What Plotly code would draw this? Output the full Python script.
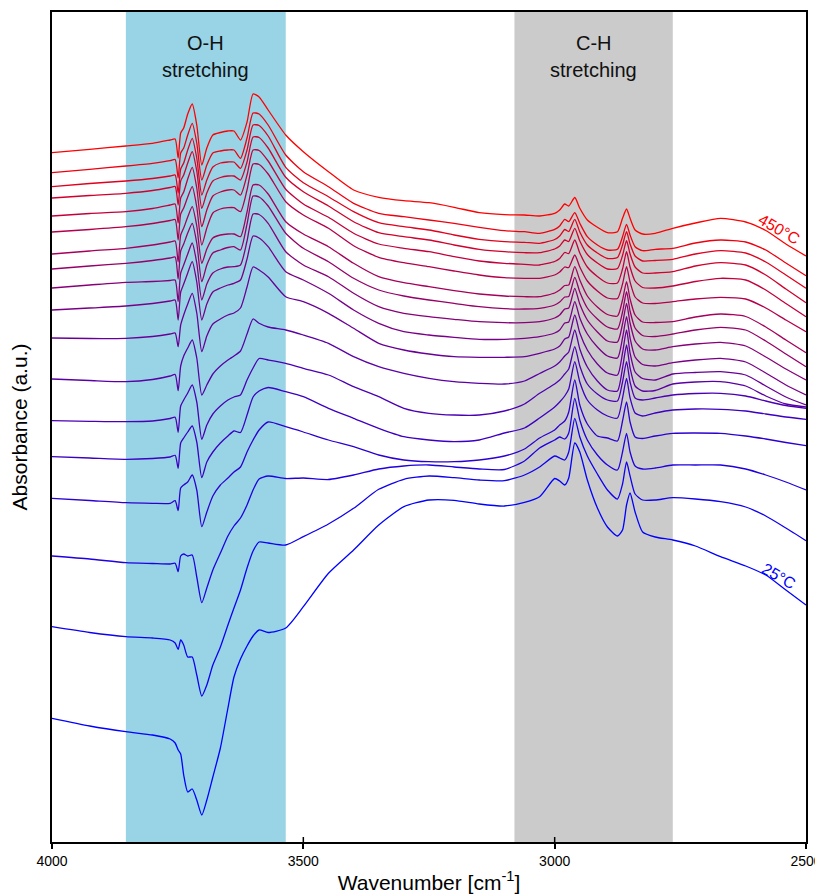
import plotly.graph_objects as go

# Wavenumber grid (cm-1) at which every spectrum was read
wavenumber = [4000, 3925, 3853, 3800, 3765, 3755, 3749, 3744, 3738, 3730, 3721, 3712, 3702, 3692,
              3680, 3665, 3650, 3638, 3625, 3612, 3600, 3588, 3570, 3535, 3500, 3450, 3400, 3350,
              3300, 3250, 3200, 3150, 3100, 3060, 3030, 3000, 2990, 2980, 2972, 2960, 2950, 2935,
              2915, 2895, 2875, 2865, 2857, 2850, 2840, 2825, 2800, 2765, 2720, 2670, 2620, 2580,
              2540, 2500]

temps_c = [25, 50, 75, 100, 125, 150, 175, 200, 225, 250, 275, 300, 325, 350, 375, 400, 425, 450]

# Absorbance (a.u., stacked spectra) at each wavenumber
abs_450 = [689.3, 692.7, 696, 698.7, 702, 703, 684, 709, 714, 728, 738, 717, 677, 694, 707, 709.5, 711, 711, 702, 720, 748, 745, 732, 707, 690.3, 670.3, 652, 644.7, 641.3, 639.3, 634.7, 629.3, 627.3, 627, 626, 628.7, 632, 638, 636, 644.5, 633.7, 622, 614.7, 609.3, 610.3, 623.7, 633, 623.7, 612, 608, 608.7, 613.7, 619, 623.7, 620, 611.5, 598, 586]
abs_425 = [669.3, 672.7, 676, 678.7, 681.3, 682.5, 664, 689, 694, 707, 718.7, 699, 662, 677, 689, 691, 692, 692, 683.7, 704, 729, 728, 717, 687, 670.3, 655.3, 638.7, 628.7, 625.3, 622, 618.7, 614.7, 611.3, 610.3, 608.7, 612.7, 616, 622.7, 620.3, 629.3, 618.7, 605.3, 597, 592, 592.7, 605.3, 617.7, 607, 595.3, 591.3, 592.7, 593.7, 599, 602, 600, 592, 579, 566.3]
abs_400 = [655.3, 658.5, 661, 663.5, 666, 667, 649, 673, 679, 692, 703.7, 684, 647, 662, 675, 679, 680, 680, 673.7, 692, 717, 716.5, 706, 674.7, 659.3, 645.3, 630.3, 619.3, 615.3, 612, 607, 602.7, 600.3, 599.7, 598.7, 602.5, 606, 612.5, 610.5, 622.7, 610, 597, 589, 583.5, 584.5, 597, 610.3, 598, 586, 581, 581.5, 582.7, 588, 591.3, 589, 580, 567, 553.7]
abs_375 = [644, 646.5, 648.7, 651.5, 654.5, 655.5, 637, 661, 667, 679, 690.3, 671, 633.7, 649, 661, 664.5, 666, 666, 662, 680, 705, 704.5, 694, 664.7, 650.3, 636, 620.3, 609.3, 605.3, 602, 597, 592.7, 590.3, 589.3, 589.3, 593, 596, 602, 600.5, 613.7, 601, 587.5, 579, 573, 573.5, 586.5, 601.3, 588, 575, 569, 569, 570.3, 576, 579.3, 577, 567, 553, 539.3]
abs_350 = [626, 628.5, 630.3, 633.5, 637, 638, 619, 644, 650, 663, 674.7, 654, 615.3, 632, 646, 650, 652, 652, 647, 667, 692, 691.5, 681, 652.7, 638, 624.7, 608.7, 598, 593.7, 590.3, 585.3, 581, 578.7, 577.7, 577, 580.5, 583.5, 589.5, 588.5, 602, 589, 575, 565.5, 559, 559, 573, 590.3, 575, 561, 554.5, 554, 556, 560.5, 563.7, 562, 552, 538.5, 525.3]
abs_325 = [610, 612.5, 615.3, 618.5, 621.5, 622.5, 602, 628, 634, 645, 655.3, 635, 597, 614, 629, 633, 634.3, 634.3, 630.3, 652, 678, 677.5, 668, 640.3, 627, 613.7, 596.3, 584.7, 579.3, 575.3, 571, 567, 564.3, 563.7, 563.7, 567, 570, 575, 574.5, 587, 575, 561, 551, 544, 543.5, 558, 575.3, 560, 545, 539, 538.5, 540.3, 543, 544.7, 543, 534, 522, 510.3]
abs_300 = [588, 591, 593.7, 597, 600, 601, 580, 607, 614, 625, 635.3, 616, 578.7, 593, 604, 607, 608, 608, 605.3, 630, 657, 657, 648, 620.3, 608, 595.3, 578.7, 565.3, 559.3, 555.3, 551.3, 548, 546, 545.3, 545.3, 549, 552, 556.5, 557, 575.3, 562, 546, 535, 527.5, 526, 542, 560.3, 543, 527, 520, 519.5, 520.3, 525, 528, 525.5, 515, 502, 489.3]
abs_275 = [573, 576, 578.7, 581.5, 584, 585, 563, 591, 598, 609, 618.7, 599, 560.3, 577, 589, 592, 594.5, 595.3, 592, 618, 646, 645, 636, 608.7, 593.7, 580.3, 563.7, 552, 546, 542, 538.7, 535.3, 533.3, 533, 533.7, 537, 540, 545, 545.5, 564.7, 550, 534, 523, 515, 513, 530, 550.3, 531, 514, 506.5, 505.5, 508, 512, 514.7, 512, 501, 488, 475.3]
abs_250 = [554, 557, 559.7, 560.5, 561.5, 562, 540.3, 569, 577, 588, 599, 579, 542, 558, 569, 573, 575, 575.3, 577, 601, 628, 627.5, 618.7, 590.3, 577, 565.3, 548.7, 535.3, 528.7, 525.3, 522.7, 520.3, 519.3, 519.3, 520.3, 524, 527, 533, 534, 553.7, 538, 522, 510, 501, 500, 518, 538.7, 519, 501, 493, 492, 495.3, 498, 499.7, 496, 485, 473, 462]
abs_225 = [532, 534, 536, 538.5, 541, 542, 522, 550, 558, 569, 580.3, 560, 522, 538, 550, 554, 557, 558.7, 562, 583, 606, 604, 595.3, 570.3, 562, 548.7, 532, 518.7, 510.3, 507, 504.7, 502.7, 502.7, 503.7, 505.3, 509, 512, 519, 520, 540.3, 524, 508, 495, 486, 484, 504, 525.3, 504, 485, 477.5, 476, 479.3, 482, 483.7, 480, 469, 457, 447]
abs_200 = [504, 503.5, 503.7, 505.5, 508, 509, 495.3, 517, 527, 538, 548.7, 529, 490.3, 506, 518, 523, 527, 529, 534, 555, 575, 572, 565, 545.3, 540.3, 528.7, 513.7, 498.7, 492, 488, 485.3, 484.7, 484.7, 485.3, 488.7, 493, 496, 503, 505, 527, 509, 492, 478, 469, 467, 489, 512, 489, 470, 463.5, 462, 468, 469.5, 470.3, 467, 456, 445, 437]
abs_175 = [463, 461.5, 460.3, 462.5, 466, 467.5, 451.3, 476, 486, 494, 502, 484, 447, 457, 468, 476, 482, 486, 491, 508, 523, 518.7, 515, 512, 507, 498.7, 485.3, 475.3, 468.7, 463.7, 460.3, 458.7, 458, 461, 468.5, 476, 480, 486, 490, 512, 493, 475, 461, 452, 451, 474, 497, 474, 456, 451, 451.5, 458, 460, 460.3, 456, 446, 438, 435]
abs_150 = [421.3, 420.7, 420.3, 421, 423.5, 424.7, 409.7, 436, 442, 449, 457, 440, 402.7, 417, 428, 436, 442, 445, 447, 462, 474, 483.5, 482, 478.7, 473.7, 467, 455.3, 445.3, 433.7, 428.7, 427, 427, 431, 438, 448.7, 458, 462, 468, 473, 495.3, 476, 458, 448, 442, 441, 460, 480.3, 460, 444, 442, 444, 447, 448.5, 448.7, 446, 441, 436.5, 433.7]
abs_125 = [385.3, 384, 382.7, 383.5, 385, 386.7, 373.7, 399, 404, 410, 416, 400, 364.3, 380, 390, 399, 406, 411, 409.5, 427, 445, 451, 454.5, 450.3, 445.3, 433.7, 423.7, 413.7, 405.3, 402, 400.3, 402, 409, 414, 424, 435, 440, 446, 453, 480.3, 460, 442, 432, 426, 424, 444, 463.7, 444, 429, 426, 429, 432, 433, 432.7, 431, 428, 425, 422.7]
abs_100 = [343.7, 341.5, 339.3, 338.7, 338.7, 341.3, 331.3, 354, 357, 360, 367, 352, 315.3, 330, 346, 357, 364, 370, 375, 390, 402, 412, 420, 415.3, 410, 402, 395.3, 387, 382, 380.3, 380.3, 382, 386, 393, 404, 412, 417, 421, 430, 462, 437, 418, 406, 404, 401, 421, 440, 420, 405, 403.5, 406, 408.7, 409, 408.7, 406, 403, 399.5, 396.3]
abs_075 = [286, 283, 279.3, 278.5, 278, 278.7, 270.3, 286, 288, 286, 287, 265, 239.3, 254, 272, 289, 306, 316, 324, 337, 352, 363, 366, 363.5, 364, 362.5, 367, 373, 376, 377, 375, 373, 372.5, 381, 394, 402, 405, 403, 409, 443.7, 422, 402, 387, 377, 372, 390, 408.7, 390, 376, 373, 374, 377, 377, 377, 373, 367, 360, 352]
abs_050 = [215.3, 209.5, 205.3, 204, 202, 199, 192.7, 202, 197, 185, 185, 167, 146, 157, 177, 195, 217, 234, 252, 274, 291, 300, 299, 297, 305.3, 318, 333.7, 352.7, 362.7, 366, 364.3, 362, 361.3, 367, 375, 386, 384, 382, 390, 423.7, 405, 386, 368, 352, 343, 358, 380, 366, 348, 342, 342, 344.3, 343, 340.3, 335, 326, 314, 301.3]
abs_025 = [123.7, 116, 110.3, 107, 103, 99, 92, 88, 67, 50, 53, 42, 27, 42, 65, 94, 134, 165, 183, 196, 206, 212, 209.5, 214, 235.3, 268.7, 292, 317, 335.3, 342, 341.7, 338, 336, 339.7, 345.3, 363.5, 361, 357, 364, 399, 390, 362, 334, 315, 306, 312, 337, 349, 330, 310, 305, 302, 296, 285.3, 276, 267, 252, 237]

spectra = [abs_025, abs_050, abs_075, abs_100, abs_125, abs_150, abs_175, abs_200, abs_225,
           abs_250, abs_275, abs_300, abs_325, abs_350, abs_375, abs_400, abs_425, abs_450]

# Band regions (cm-1)
oh_band = (3853, 3535)
ch_band = (3080, 2765)
tick_values = [4000, 3500, 3000, 2500]

FONT = "Liberation Sans, Arial, sans-serif"

fig = go.Figure()
n = len(spectra)
for i, (t, ys) in enumerate(zip(temps_c, spectra)):
    f = i / (n - 1)
    color = f"rgb({round(255 * f)},0,{round(255 * (1 - f))})"
    fig.add_trace(go.Scatter(x=wavenumber, y=ys, mode="lines", name=f"{t}°C",
                             line=dict(color=color, width=1.3, shape="spline", smoothing=0.6),
                             showlegend=False, hoverinfo="skip"))

fig.add_shape(type="rect", xref="x", yref="paper", x0=oh_band[0], x1=oh_band[1], y0=0, y1=1,
              fillcolor="#98D4E6", line_width=0, layer="below")
fig.add_shape(type="rect", xref="x", yref="paper", x0=ch_band[0], x1=ch_band[1], y0=0, y1=1,
              fillcolor="#CBCBCB", line_width=0, layer="below")
# inner half of the crossing tick marks
for tv in tick_values[1:-1]:
    fig.add_shape(type="line", xref="x", yref="paper", x0=tv, x1=tv, y0=0, y1=0.006,
                  line=dict(color="black", width=1.5))

lab = dict(size=20, color="#111111", family=FONT)
oh_mid = (oh_band[0] + oh_band[1]) / 2
ch_mid = (ch_band[0] + ch_band[1]) / 2
fig.add_annotation(x=oh_mid, y=799, xref="x", yref="y", text="O-H", showarrow=False, font=lab)
fig.add_annotation(x=oh_mid, y=772, xref="x", yref="y", text="stretching", showarrow=False, font=lab)
fig.add_annotation(x=ch_mid, y=799, xref="x", yref="y", text="C-H", showarrow=False, font=lab)
fig.add_annotation(x=ch_mid, y=772, xref="x", yref="y", text="stretching", showarrow=False, font=lab)

fig.add_annotation(x=2552, y=613, xref="x", yref="y", text="450°C", showarrow=False,
                   textangle=30, font=dict(size=16, color="rgb(255,0,0)", family=FONT))
fig.add_annotation(x=2553, y=266, xref="x", yref="y", text="25°C", showarrow=False,
                   textangle=30, font=dict(size=16, color="rgb(0,0,255)", family=FONT))

# the page places the figure 8 px from its top-left corner
fig.update_layout(
    width=815, height=887,
    margin=dict(l=44, r=17, t=4, b=53, autoexpand=False),
    paper_bgcolor="white", plot_bgcolor="white",
    font=dict(family=FONT, color="black"),
    xaxis=dict(range=[4000, 2500], tickvals=tick_values, automargin=False,
               ticks="outside", ticklen=5, tickwidth=1.5, tickcolor="black",
               showline=True, linecolor="black", linewidth=1.6, mirror=True,
               showgrid=False, zeroline=False,
               tickfont=dict(size=14, family=FONT, color="black"),
               title=dict(text="Wavenumber [cm<sup>-1</sup>]", standoff=8,
                          font=dict(size=21, family=FONT, color="black"))),
    yaxis=dict(range=[0, 830], showticklabels=False, ticks="", showgrid=False,
               automargin=False, zeroline=False, showline=True, linecolor="black",
               linewidth=1.6, mirror=True,
               title=dict(text="Absorbance (a.u.)", standoff=20,
                          font=dict(size=21, family=FONT, color="black"))),
)

fig.write_html("out.html")
